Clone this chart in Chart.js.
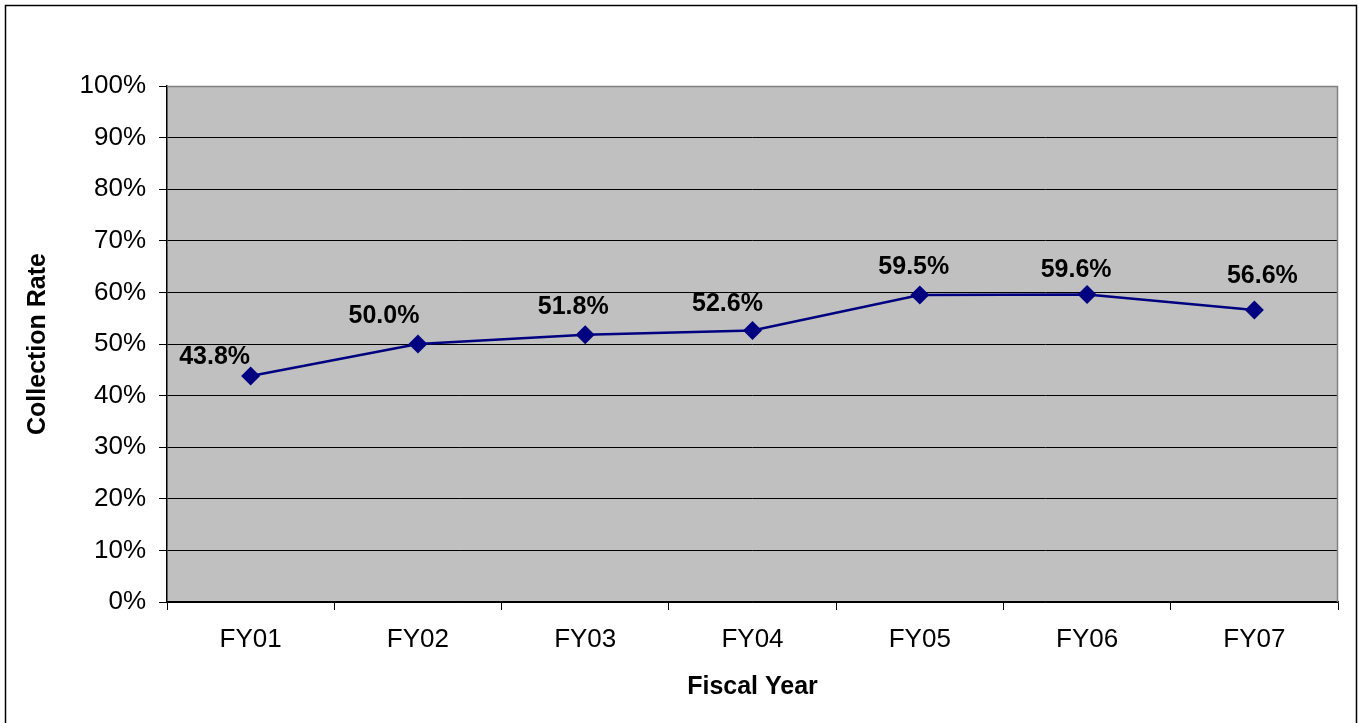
<!DOCTYPE html>
<html>
<head>
<meta charset="utf-8">
<script src="https://cdn.jsdelivr.net/npm/chart.js@4/dist/chart.umd.min.js"></script>
<style>
  html, body { margin: 0; padding: 0; background: #fff; }
  #wrap { width: 1359px; height: 723px; }
</style>
</head>
<body>
<div id="wrap"><canvas id="rateChart" width="1359" height="723"></canvas></div>
<script>
(function () {
  'use strict';

  // chart data
  var fiscalYears = ['FY01', 'FY02', 'FY03', 'FY04', 'FY05', 'FY06', 'FY07'];
  var collectionRate = [43.8, 50.0, 51.8, 52.6, 59.5, 59.6, 56.6];
  var yTicks = [0, 10, 20, 30, 40, 50, 60, 70, 80, 90, 100];

  // where each value label sits relative to its point (pixels)
  var labelDx = [-36, -34, -12, -25, -6, -11, 8];
  var labelDy = [-19, -28, -28, -26, -28, -24, -34];

  var navy = '#000080';
  var fontFamily = '"Liberation Sans", Arial, sans-serif';

  // white page, outer frame and the grey plot area
  var backdrop = {
    id: 'backdrop',
    beforeDraw: function (chart) {
      var ctx = chart.ctx, a = chart.chartArea;
      ctx.save();
      ctx.fillStyle = '#fff';
      ctx.fillRect(0, 0, chart.width, chart.height);
      ctx.strokeStyle = '#000';
      ctx.lineWidth = 1.5;
      ctx.strokeRect(5.5, 5.5, chart.width - 8, chart.height + 20);
      ctx.fillStyle = '#C0C0C0';
      ctx.fillRect(a.left, a.top, a.right - a.left, a.bottom - a.top);
      ctx.restore();
    },
    beforeDatasetsDraw: function (chart) {
      var ctx = chart.ctx, a = chart.chartArea;
      ctx.save();
      ctx.strokeStyle = '#808080';
      ctx.lineWidth = 1.5;
      ctx.beginPath();
      ctx.moveTo(a.left, a.top + 0.5);
      ctx.lineTo(a.right - 0.5, a.top + 0.5);
      ctx.lineTo(a.right - 0.5, a.bottom);
      ctx.stroke();
      ctx.restore();
    }
  };

  // value labels above the points
  var valueLabels = {
    id: 'valueLabels',
    afterDatasetsDraw: function (chart) {
      var ctx = chart.ctx;
      var meta = chart.getDatasetMeta(0);
      ctx.save();
      ctx.font = 'bold 25px ' + fontFamily;
      ctx.fillStyle = '#000';
      ctx.textAlign = 'center';
      ctx.textBaseline = 'middle';
      meta.data.forEach(function (pt, i) {
        ctx.fillText(collectionRate[i].toFixed(1) + '%', pt.x + labelDx[i], pt.y + labelDy[i]);
      });
      ctx.restore();
    }
  };

  new Chart(document.getElementById('rateChart'), {
    type: 'line',
    data: {
      labels: fiscalYears,
      datasets: [{
        data: collectionRate,
        borderColor: navy,
        backgroundColor: navy,
        borderWidth: 2.5,
        tension: 0,
        pointStyle: 'rectRot',
        pointRadius: 9.5,
        pointBorderWidth: 0,
        pointBackgroundColor: navy
      }]
    },
    options: {
      responsive: false,
      animation: false,
      devicePixelRatio: 1,
      layout: { padding: { top: 86, right: 21, left: 0, bottom: 0 } },
      plugins: {
        legend: { display: false },
        tooltip: { enabled: false }
      },
      scales: {
        x: {
          offset: true,
          afterFit: function (s) { s.height = 121; },
          grid: {
            offset: true,
            drawOnChartArea: false,
            drawTicks: true,
            tickLength: 8,
            color: '#000'
          },
          border: { display: true, color: '#000', width: 1.5 },
          ticks: {
            color: '#000',
            padding: 14,
            maxRotation: 0,
            font: { family: fontFamily, size: 26 }
          },
          title: {
            display: true,
            text: 'Fiscal Year',
            color: '#000',
            padding: { top: 0, bottom: 21 },
            font: { family: fontFamily, size: 25, weight: 'bold' }
          }
        },
        y: {
          min: 0,
          max: 100,
          afterFit: function (s) { s.width = 167; },
          afterBuildTicks: function (s) {
            s.ticks = yTicks.map(function (v) { return { value: v }; });
          },
          grid: {
            color: function (c) { return c.tick && c.tick.value === 100 ? '#808080' : '#000'; },
            lineWidth: 1,
            drawTicks: true,
            tickLength: 8,
            tickColor: '#000'
          },
          border: { display: true, color: '#000', width: 1.5 },
          ticks: {
            color: '#000',
            padding: 13,
            font: { family: fontFamily, size: 26 },
            callback: function (v) { return v + '%'; }
          },
          title: {
            display: true,
            text: 'Collection Rate',
            color: '#000',
            padding: { top: 23, bottom: 0 },
            font: { family: fontFamily, size: 25, weight: 'bold' }
          }
        }
      }
    },
    plugins: [backdrop, valueLabels]
  });
})();
</script>
</body>
</html>
